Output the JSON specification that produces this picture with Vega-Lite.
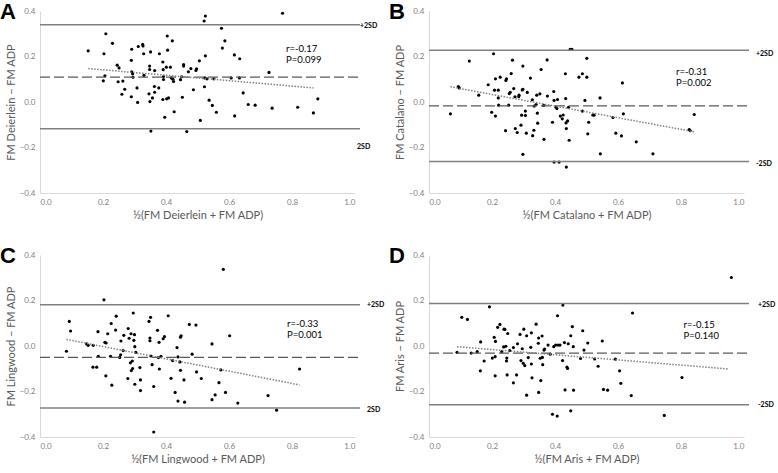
{
"$schema":"https://vega.github.io/schema/vega-lite/v6.json",
"padding":{"left":0,"top":1,"right":0,"bottom":0},
"background":"white",
"datasets":{
"A":[{"x":0.153,"y":0.225},{"x":0.203,"y":0.212},{"x":0.209,"y":0.300},{"x":0.230,"y":0.258},{"x":0.201,"y":0.093},{"x":0.206,"y":0.115},{"x":0.245,"y":0.162},{"x":0.251,"y":0.150},{"x":0.248,"y":0.089},{"x":0.263,"y":0.092},{"x":0.269,"y":0.056},{"x":0.260,"y":0.034},{"x":0.291,"y":0.232},{"x":0.290,"y":0.183},{"x":0.291,"y":0.133},{"x":0.294,"y":0.124},{"x":0.295,"y":0.109},{"x":0.290,"y":0.023},{"x":0.308,"y":0.062},{"x":0.310,"y":-0.002},{"x":0.312,"y":0.244},{"x":0.326,"y":0.253},{"x":0.327,"y":0.246},{"x":0.329,"y":0.212},{"x":0.330,"y":0.117},{"x":0.351,"y":0.220},{"x":0.348,"y":0.158},{"x":0.348,"y":0.143},{"x":0.346,"y":0.036},{"x":0.349,"y":0.002},{"x":0.352,"y":-0.128},{"x":0.357,"y":0.018},{"x":0.363,"y":0.068},{"x":0.364,"y":0.043},{"x":0.364,"y":0.138},{"x":0.377,"y":0.062},{"x":0.379,"y":0.212},{"x":0.390,"y":0.176},{"x":0.391,"y":0.142},{"x":0.392,"y":0.112},{"x":0.392,"y":0.099},{"x":0.390,"y":0.011},{"x":0.396,"y":-0.067},{"x":0.401,"y":0.153},{"x":0.404,"y":0.290},{"x":0.405,"y":0.228},{"x":0.402,"y":0.014},{"x":0.408,"y":0.018},{"x":0.414,"y":0.153},{"x":0.420,"y":0.269},{"x":0.417,"y":0.106},{"x":0.422,"y":0.100},{"x":0.424,"y":0.090},{"x":0.426,"y":-0.043},{"x":0.446,"y":0.098},{"x":0.450,"y":0.111},{"x":0.452,"y":0.021},{"x":0.456,"y":0.164},{"x":0.456,"y":0.158},{"x":0.466,"y":-0.130},{"x":0.471,"y":0.133},{"x":0.479,"y":0.147},{"x":0.487,"y":0.054},{"x":0.495,"y":0.139},{"x":0.497,"y":0.146},{"x":0.506,"y":0.181},{"x":0.509,"y":-0.081},{"x":0.521,"y":0.356},{"x":0.525,"y":0.378},{"x":0.522,"y":0.067},{"x":0.525,"y":0.203},{"x":0.523,"y":0.106},{"x":0.530,"y":0.102},{"x":0.537,"y":0.008},{"x":0.547,"y":-0.015},{"x":0.552,"y":0.102},{"x":0.560,"y":-0.045},{"x":0.576,"y":0.324},{"x":0.579,"y":0.237},{"x":0.587,"y":0.269},{"x":0.607,"y":0.106},{"x":0.617,"y":0.207},{"x":0.618,"y":-0.061},{"x":0.634,"y":0.190},{"x":0.633,"y":0.106},{"x":0.645,"y":0.040},{"x":0.661,"y":-0.011},{"x":0.683,"y":-0.014},{"x":0.727,"y":0.130},{"x":0.737,"y":-0.027},{"x":0.770,"y":0.390},{"x":0.818,"y":-0.023},{"x":0.868,"y":-0.048},{"x":0.882,"y":0.014}],
"B":[{"x":0.068,"y":-0.052},{"x":0.093,"y":0.068},{"x":0.096,"y":0.062},{"x":0.128,"y":0.180},{"x":0.158,"y":0.030},{"x":0.188,"y":0.076},{"x":0.199,"y":-0.045},{"x":0.205,"y":0.212},{"x":0.208,"y":0.052},{"x":0.211,"y":0.102},{"x":0.211,"y":-0.062},{"x":0.220,"y":0.052},{"x":0.220,"y":0.018},{"x":0.221,"y":-0.014},{"x":0.226,"y":0.109},{"x":0.243,"y":-0.126},{"x":0.244,"y":0.095},{"x":0.246,"y":0.102},{"x":0.253,"y":-0.014},{"x":0.255,"y":0.037},{"x":0.258,"y":0.043},{"x":0.261,"y":0.125},{"x":0.265,"y":0.184},{"x":0.269,"y":0.059},{"x":0.273,"y":0.023},{"x":0.274,"y":-0.117},{"x":0.280,"y":-0.134},{"x":0.285,"y":0.023},{"x":0.286,"y":0.030},{"x":0.292,"y":-0.102},{"x":0.294,"y":-0.058},{"x":0.296,"y":0.053},{"x":0.298,"y":0.056},{"x":0.298,"y":0.158},{"x":0.298,"y":-0.230},{"x":0.306,"y":-0.059},{"x":0.306,"y":-0.040},{"x":0.309,"y":-0.137},{"x":0.312,"y":0.042},{"x":0.322,"y":0.105},{"x":0.328,"y":0.010},{"x":0.329,"y":-0.148},{"x":0.333,"y":-0.124},{"x":0.334,"y":-0.018},{"x":0.340,"y":-0.011},{"x":0.342,"y":0.030},{"x":0.344,"y":-0.049},{"x":0.345,"y":-0.093},{"x":0.352,"y":0.036},{"x":0.356,"y":0.143},{"x":0.365,"y":-0.164},{"x":0.364,"y":-0.015},{"x":0.375,"y":0.185},{"x":0.376,"y":0.026},{"x":0.392,"y":-0.089},{"x":0.396,"y":0.046},{"x":0.397,"y":0.007},{"x":0.397,"y":-0.264},{"x":0.403,"y":-0.023},{"x":0.406,"y":-0.029},{"x":0.408,"y":0.011},{"x":0.413,"y":-0.264},{"x":0.417,"y":-0.062},{"x":0.423,"y":-0.074},{"x":0.426,"y":-0.057},{"x":0.433,"y":0.124},{"x":0.434,"y":0.015},{"x":0.435,"y":-0.092},{"x":0.436,"y":-0.117},{"x":0.436,"y":-0.286},{"x":0.440,"y":-0.083},{"x":0.443,"y":-0.023},{"x":0.445,"y":-0.168},{"x":0.448,"y":0.231},{"x":0.454,"y":0.231},{"x":0.476,"y":0.109},{"x":0.487,"y":0.124},{"x":0.487,"y":-0.040},{"x":0.495,"y":0.007},{"x":0.501,"y":0.192},{"x":0.501,"y":0.109},{"x":0.504,"y":-0.140},{"x":0.507,"y":-0.089},{"x":0.520,"y":-0.057},{"x":0.524,"y":-0.058},{"x":0.543,"y":0.018},{"x":0.544,"y":-0.228},{"x":0.584,"y":-0.068},{"x":0.593,"y":-0.137},{"x":0.611,"y":-0.149},{"x":0.614,"y":0.084},{"x":0.617,"y":-0.052},{"x":0.658,"y":-0.175},{"x":0.711,"y":-0.228},{"x":0.826,"y":-0.121},{"x":0.829,"y":-0.126},{"x":0.842,"y":-0.055}],
"C":[{"x":0.084,"y":-0.023},{"x":0.093,"y":0.108},{"x":0.097,"y":0.066},{"x":0.148,"y":0.009},{"x":0.153,"y":0.003},{"x":0.169,"y":0.003},{"x":0.168,"y":-0.093},{"x":0.180,"y":-0.093},{"x":0.184,"y":0.063},{"x":0.185,"y":-0.045},{"x":0.203,"y":0.203},{"x":0.206,"y":0.016},{"x":0.210,"y":0.013},{"x":0.209,"y":-0.131},{"x":0.215,"y":0.054},{"x":0.224,"y":-0.045},{"x":0.226,"y":0.099},{"x":0.228,"y":-0.172},{"x":0.240,"y":0.070},{"x":0.242,"y":0.131},{"x":0.257,"y":0.022},{"x":0.253,"y":-0.050},{"x":0.256,"y":-0.039},{"x":0.264,"y":-0.020},{"x":0.266,"y":0.047},{"x":0.279,"y":-0.143},{"x":0.280,"y":0.077},{"x":0.283,"y":0.034},{"x":0.287,"y":-0.074},{"x":0.289,"y":0.054},{"x":0.290,"y":-0.108},{"x":0.293,"y":-0.066},{"x":0.294,"y":-0.099},{"x":0.296,"y":0.145},{"x":0.298,"y":0.025},{"x":0.300,"y":0.050},{"x":0.301,"y":-0.003},{"x":0.301,"y":-0.168},{"x":0.304,"y":-0.028},{"x":0.317,"y":-0.095},{"x":0.319,"y":-0.149},{"x":0.319,"y":-0.196},{"x":0.346,"y":0.108},{"x":0.351,"y":0.126},{"x":0.349,"y":0.035},{"x":0.349,"y":0.023},{"x":0.352,"y":-0.044},{"x":0.356,"y":-0.082},{"x":0.361,"y":-0.178},{"x":0.361,"y":-0.378},{"x":0.373,"y":0.069},{"x":0.376,"y":-0.051},{"x":0.378,"y":0.016},{"x":0.379,"y":-0.101},{"x":0.384,"y":-0.045},{"x":0.391,"y":0.032},{"x":0.395,"y":0.041},{"x":0.407,"y":0.133},{"x":0.416,"y":-0.142},{"x":0.421,"y":-0.064},{"x":0.429,"y":-0.204},{"x":0.435,"y":-0.007},{"x":0.438,"y":-0.048},{"x":0.438,"y":-0.242},{"x":0.444,"y":-0.070},{"x":0.446,"y":-0.107},{"x":0.446,"y":0.039},{"x":0.448,"y":0.045},{"x":0.457,"y":-0.149},{"x":0.459,"y":-0.247},{"x":0.474,"y":0.095},{"x":0.483,"y":-0.036},{"x":0.495,"y":0.092},{"x":0.497,"y":-0.114},{"x":0.512,"y":-0.143},{"x":0.546,"y":0.009},{"x":0.546,"y":-0.236},{"x":0.556,"y":-0.215},{"x":0.568,"y":-0.161},{"x":0.574,"y":-0.105},{"x":0.582,"y":0.337},{"x":0.589,"y":-0.204},{"x":0.602,"y":0.045},{"x":0.628,"y":-0.251},{"x":0.724,"y":-0.218},{"x":0.751,"y":-0.282},{"x":0.824,"y":-0.101}],
"D":[{"x":0.089,"y":-0.028},{"x":0.104,"y":0.126},{"x":0.122,"y":0.117},{"x":0.134,"y":-0.031},{"x":0.153,"y":-0.025},{"x":0.164,"y":0.018},{"x":0.163,"y":-0.109},{"x":0.175,"y":-0.066},{"x":0.192,"y":0.172},{"x":0.201,"y":-0.053},{"x":0.207,"y":0.038},{"x":0.210,"y":-0.047},{"x":0.211,"y":0.020},{"x":0.210,"y":-0.131},{"x":0.218,"y":0.082},{"x":0.225,"y":0.095},{"x":0.231,"y":-0.025},{"x":0.237,"y":-0.004},{"x":0.238,"y":0.074},{"x":0.241,"y":0.073},{"x":0.244,"y":-0.001},{"x":0.246,"y":-0.066},{"x":0.247,"y":-0.053},{"x":0.248,"y":-0.127},{"x":0.250,"y":0.055},{"x":0.256,"y":-0.020},{"x":0.268,"y":-0.162},{"x":0.268,"y":-0.007},{"x":0.278,"y":-0.127},{"x":0.281,"y":0.010},{"x":0.289,"y":0.051},{"x":0.292,"y":-0.064},{"x":0.296,"y":-0.012},{"x":0.299,"y":-0.076},{"x":0.301,"y":0.074},{"x":0.304,"y":-0.086},{"x":0.310,"y":0.045},{"x":0.310,"y":-0.216},{"x":0.315,"y":-0.051},{"x":0.323,"y":-0.006},{"x":0.325,"y":0.058},{"x":0.325,"y":-0.079},{"x":0.327,"y":-0.140},{"x":0.340,"y":0.096},{"x":0.347,"y":0.012},{"x":0.348,"y":0.035},{"x":0.348,"y":-0.204},{"x":0.353,"y":-0.054},{"x":0.355,"y":-0.152},{"x":0.359,"y":0.044},{"x":0.360,"y":-0.050},{"x":0.361,"y":-0.082},{"x":0.365,"y":-0.018},{"x":0.367,"y":-0.013},{"x":0.378,"y":0.004},{"x":0.385,"y":-0.036},{"x":0.392,"y":-0.300},{"x":0.407,"y":-0.308},{"x":0.396,"y":-0.003},{"x":0.402,"y":0.004},{"x":0.408,"y":0.133},{"x":0.410,"y":0.004},{"x":0.416,"y":0.004},{"x":0.424,"y":-0.064},{"x":0.425,"y":0.180},{"x":0.430,"y":0.015},{"x":0.432,"y":-0.193},{"x":0.438,"y":-0.093},{"x":0.440,"y":-0.099},{"x":0.442,"y":0.010},{"x":0.450,"y":0.045},{"x":0.450,"y":-0.285},{"x":0.455,"y":0.085},{"x":0.458,"y":-0.003},{"x":0.459,"y":-0.194},{"x":0.481,"y":-0.055},{"x":0.488,"y":0.067},{"x":0.492,"y":-0.018},{"x":0.504,"y":0.013},{"x":0.526,"y":-0.057},{"x":0.537,"y":-0.089},{"x":0.550,"y":0.022},{"x":0.554,"y":-0.191},{"x":0.567,"y":-0.194},{"x":0.592,"y":-0.058},{"x":0.605,"y":-0.109},{"x":0.609,"y":-0.164},{"x":0.642,"y":-0.218},{"x":0.646,"y":0.145},{"x":0.747,"y":-0.305},{"x":0.803,"y":-0.139},{"x":0.960,"y":0.301}]
},
"concat":[
{"width":315,"height":182,
 "title":{"text":"A","anchor":"start","frame":"group","dx":-40,"dy":29,"offset":-5,"baseline":"alphabetic","fontSize":22,"fontWeight":"bold","font":"Liberation Sans","color":"#000000"},
 "layer":[
  {"data":{"name":"A"},"mark":{"type":"circle","color":"#000000","size":10,"opacity":1},
   "encoding":{"x":{"field":"x","type":"quantitative","scale":{"domain":[0,1],"nice":false,"zero":false},"axis":{"title":"½(FM Deierlein + FM ADP)","values":[0,0.1,0.2,0.3,0.4,0.5,0.6,0.7,0.8,0.9,1],"format":".1f"}},
               "y":{"field":"y","type":"quantitative","scale":{"domain":[-0.4,0.4],"nice":false},"axis":{"title":"FM Deierlein − FM ADP","values":[-0.4,-0.3,-0.2,-0.1,0,0.1,0.2,0.3,0.4],"format":".1f"}}}},
  {"data":{"values":[{"y":0.340},{"y":-0.118}]},"mark":{"type":"rule","color":"#808080","strokeWidth":1.5,"clip":false,"x2Offset":5},"encoding":{"x":{"datum":0},"x2":{"datum":1},"y":{"field":"y","type":"quantitative"}}},
  {"data":{"values":[{"y":0.109}]},"mark":{"type":"rule","color":"#595959","strokeWidth":1.2,"strokeDash":[10,4],"clip":false,"x2Offset":5},"encoding":{"x":{"datum":0},"x2":{"datum":1},"y":{"field":"y","type":"quantitative"}}},
  {"data":{"values":[{"x":0.153,"y":0.147},{"x":0.868,"y":0.062}]},"mark":{"type":"line","color":"#808080","strokeWidth":1.5,"strokeDash":[1.5,1.5]},"encoding":{"x":{"field":"x","type":"quantitative"},"y":{"field":"y","type":"quantitative"}}},
  {"data":{"values":[{"x":0.781,"y":0.231,"t":"r=-0.17"},{"x":0.781,"y":0.183,"t":"P=0.099"}]},"mark":{"type":"text","align":"left","baseline":"middle","fontSize":9.5,"font":"Lato","color":"#000000"},"encoding":{"x":{"field":"x","type":"quantitative"},"y":{"field":"y","type":"quantitative"},"text":{"field":"t"}}},
  {"data":{"values":[{"y":0.332,"t":"+2SD"}]},"mark":{"type":"text","align":"left","baseline":"middle","dx":5,"fontSize":7,"fontWeight":"bold","font":"Lato","color":"#000000","clip":false},"encoding":{"x":{"datum":1},"y":{"field":"y","type":"quantitative"},"text":{"field":"t"}}},
  {"data":{"values":[{"y":-0.196,"t":"2SD"}]},"mark":{"type":"text","align":"left","baseline":"middle","dx":2,"fontSize":7,"fontWeight":"bold","font":"Lato","color":"#000000","clip":false},"encoding":{"x":{"datum":1},"y":{"field":"y","type":"quantitative"},"text":{"field":"t"}}}
 ]},
{"width":315,"height":182,
 "title":{"text":"B","anchor":"start","frame":"group","dx":-40,"dy":29,"offset":-5,"baseline":"alphabetic","fontSize":22,"fontWeight":"bold","font":"Liberation Sans","color":"#000000"},
 "layer":[
  {"data":{"name":"B"},"mark":{"type":"circle","color":"#000000","size":10,"opacity":1},
   "encoding":{"x":{"field":"x","type":"quantitative","scale":{"domain":[0,1],"nice":false,"zero":false},"axis":{"title":"½(FM Catalano + FM ADP)","values":[0,0.1,0.2,0.3,0.4,0.5,0.6,0.7,0.8,0.9,1],"format":".1f"}},
               "y":{"field":"y","type":"quantitative","scale":{"domain":[-0.4,0.4],"nice":false},"axis":{"title":"FM Catalano − FM ADP","values":[-0.4,-0.3,-0.2,-0.1,0,0.1,0.2,0.3,0.4],"format":".1f"}}}},
  {"data":{"values":[{"y":0.227},{"y":-0.261}]},"mark":{"type":"rule","color":"#808080","strokeWidth":1.5,"clip":false,"x2Offset":5},"encoding":{"x":{"datum":0},"x2":{"datum":1},"y":{"field":"y","type":"quantitative"}}},
  {"data":{"values":[{"y":-0.017}]},"mark":{"type":"rule","color":"#595959","strokeWidth":1.2,"strokeDash":[10,4],"clip":false,"x2Offset":5},"encoding":{"x":{"datum":0},"x2":{"datum":1},"y":{"field":"y","type":"quantitative"}}},
  {"data":{"values":[{"x":0.068,"y":0.067},{"x":0.842,"y":-0.131}]},"mark":{"type":"line","color":"#808080","strokeWidth":1.5,"strokeDash":[1.5,1.5]},"encoding":{"x":{"field":"x","type":"quantitative"},"y":{"field":"y","type":"quantitative"}}},
  {"data":{"values":[{"x":0.784,"y":0.133,"t":"r=-0.31"},{"x":0.784,"y":0.083,"t":"P=0.002"}]},"mark":{"type":"text","align":"left","baseline":"middle","fontSize":9.5,"font":"Lato","color":"#000000"},"encoding":{"x":{"field":"x","type":"quantitative"},"y":{"field":"y","type":"quantitative"},"text":{"field":"t"}}},
  {"data":{"values":[{"y":0.212,"t":"+2SD"},{"y":-0.271,"t":"-2SD"}]},"mark":{"type":"text","align":"left","baseline":"middle","dx":12,"fontSize":7,"fontWeight":"bold","font":"Lato","color":"#000000","clip":false},"encoding":{"x":{"datum":1},"y":{"field":"y","type":"quantitative"},"text":{"field":"t"}}}
 ]},
{"width":315,"height":182,
 "title":{"text":"C","anchor":"start","frame":"group","dx":-40,"dy":29,"offset":-5,"baseline":"alphabetic","fontSize":22,"fontWeight":"bold","font":"Liberation Sans","color":"#000000"},
 "layer":[
  {"data":{"name":"C"},"mark":{"type":"circle","color":"#000000","size":10,"opacity":1},
   "encoding":{"x":{"field":"x","type":"quantitative","scale":{"domain":[0,1],"nice":false,"zero":false},"axis":{"title":"½(FM Lingwood + FM ADP)","values":[0,0.1,0.2,0.3,0.4,0.5,0.6,0.7,0.8,0.9,1],"format":".1f"}},
               "y":{"field":"y","type":"quantitative","scale":{"domain":[-0.4,0.4],"nice":false},"axis":{"title":"FM Lingwood − FM ADP","values":[-0.4,-0.3,-0.2,-0.1,0,0.1,0.2,0.3,0.4],"format":".1f"}}}},
  {"data":{"values":[{"y":0.181},{"y":-0.273}]},"mark":{"type":"rule","color":"#808080","strokeWidth":1.5,"clip":false,"x2Offset":5},"encoding":{"x":{"datum":0},"x2":{"datum":1},"y":{"field":"y","type":"quantitative"}}},
  {"data":{"values":[{"y":-0.050}]},"mark":{"type":"rule","color":"#595959","strokeWidth":1.2,"strokeDash":[10,4],"clip":false,"x2Offset":5},"encoding":{"x":{"datum":0},"x2":{"datum":1},"y":{"field":"y","type":"quantitative"}}},
  {"data":{"values":[{"x":0.084,"y":0.029},{"x":0.824,"y":-0.171}]},"mark":{"type":"line","color":"#808080","strokeWidth":1.5,"strokeDash":[1.5,1.5]},"encoding":{"x":{"field":"x","type":"quantitative"},"y":{"field":"y","type":"quantitative"}}},
  {"data":{"values":[{"x":0.784,"y":0.096,"t":"r=-0.33"},{"x":0.784,"y":0.050,"t":"P=0.001"}]},"mark":{"type":"text","align":"left","baseline":"middle","fontSize":9.5,"font":"Lato","color":"#000000"},"encoding":{"x":{"field":"x","type":"quantitative"},"y":{"field":"y","type":"quantitative"},"text":{"field":"t"}}},
  {"data":{"values":[{"y":0.181,"t":"+2SD"},{"y":-0.283,"t":"2SD"}]},"mark":{"type":"text","align":"left","baseline":"middle","dx":12,"fontSize":7,"fontWeight":"bold","font":"Lato","color":"#000000","clip":false},"encoding":{"x":{"datum":1},"y":{"field":"y","type":"quantitative"},"text":{"field":"t"}}}
 ]},
{"width":315,"height":182,
 "title":{"text":"D","anchor":"start","frame":"group","dx":-40,"dy":29,"offset":-5,"baseline":"alphabetic","fontSize":22,"fontWeight":"bold","font":"Liberation Sans","color":"#000000"},
 "layer":[
  {"data":{"name":"D"},"mark":{"type":"circle","color":"#000000","size":10,"opacity":1},
   "encoding":{"x":{"field":"x","type":"quantitative","scale":{"domain":[0,1],"nice":false,"zero":false},"axis":{"title":"½(FM Aris + FM ADP)","values":[0,0.1,0.2,0.3,0.4,0.5,0.6,0.7,0.8,0.9,1],"format":".1f"}},
               "y":{"field":"y","type":"quantitative","scale":{"domain":[-0.4,0.4],"nice":false},"axis":{"title":"FM Aris − FM ADP","values":[-0.4,-0.3,-0.2,-0.1,0,0.1,0.2,0.3,0.4],"format":".1f"}}}},
  {"data":{"values":[{"y":0.187},{"y":-0.258}]},"mark":{"type":"rule","color":"#808080","strokeWidth":1.5,"clip":false,"x2Offset":5},"encoding":{"x":{"datum":0},"x2":{"datum":1},"y":{"field":"y","type":"quantitative"}}},
  {"data":{"values":[{"y":-0.031}]},"mark":{"type":"rule","color":"#595959","strokeWidth":1.2,"strokeDash":[10,4],"clip":false,"x2Offset":5},"encoding":{"x":{"datum":0},"x2":{"datum":1},"y":{"field":"y","type":"quantitative"}}},
  {"data":{"values":[{"x":0.089,"y":-0.003},{"x":0.950,"y":-0.101}]},"mark":{"type":"line","color":"#808080","strokeWidth":1.5,"strokeDash":[1.5,1.5]},"encoding":{"x":{"field":"x","type":"quantitative"},"y":{"field":"y","type":"quantitative"}}},
  {"data":{"values":[{"x":0.808,"y":0.093,"t":"r=-0.15"},{"x":0.808,"y":0.045,"t":"P=0.140"}]},"mark":{"type":"text","align":"left","baseline":"middle","fontSize":9.5,"font":"Lato","color":"#000000"},"encoding":{"x":{"field":"x","type":"quantitative"},"y":{"field":"y","type":"quantitative"},"text":{"field":"t"}}},
  {"data":{"values":[{"y":0.181,"t":"+2SD"},{"y":-0.258,"t":"-2SD"}]},"mark":{"type":"text","align":"left","baseline":"middle","dx":14,"fontSize":7,"fontWeight":"bold","font":"Lato","color":"#000000","clip":false},"encoding":{"x":{"datum":1},"y":{"field":"y","type":"quantitative"},"text":{"field":"t"}}}
 ]}
],
"columns":2,
"spacing":{"row":62,"column":74},
"bounds":"flush",
"config":{
 "view":{"stroke":null},
 "font":"Lato",
 "axis":{"grid":false,"ticks":false,"domainColor":"#d9d9d9","domainWidth":1,"labelColor":"#808080","labelFontSize":8,"labelFont":"Lato","labelPadding":5,"titleFont":"Lato","titleFontSize":11,"titleFontWeight":"normal","titleColor":"#595959","titlePadding":3}
}
}
